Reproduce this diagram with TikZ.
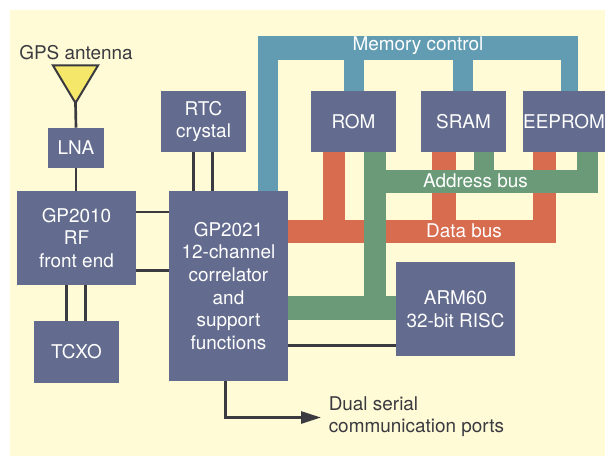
\documentclass[tikz,border=0pt]{standalone}
\usepackage{fontspec}
\setmainfont{TeX Gyre Heros}
\usetikzlibrary{arrows.meta}
\definecolor{paper}{HTML}{FFFBD6}
\definecolor{slate}{HTML}{636C8E}
\definecolor{memblue}{HTML}{629CB2}
\definecolor{dataorange}{HTML}{D86C4F}
\definecolor{addrgreen}{HTML}{6A9A78}
\definecolor{wirecol}{HTML}{3A3A40}
\definecolor{antfill}{HTML}{F5E76A}
\tikzset{
   block/.style 2 args = {fill = slate, text = white, inner sep = 0pt, align = center,
      minimum width = #1*0.75pt, minimum height = #2*0.75pt,
      font = \fontsize{14.2}{17}\selectfont},
   wire/.style = {draw = wirecol, line width = 2pt},
   membus/.style = {draw = memblue, line width = #1*0.75pt},
   databus/.style = {draw = dataorange, line width = #1*0.75pt},
   addrbus/.style = {draw = addrgreen, line width = #1*0.75pt},
   buslabel/.style = {text = white, inner sep = 0pt, font = \fontsize{14.2}{17}\selectfont},
   plainlabel/.style = {text = wirecol, inner sep = 0pt, align = left, font = \fontsize{14.2}{17}\selectfont}
}
\begin{document}
\begin{tikzpicture}[x = 0.75pt, y = -0.75pt]
\useasboundingbox (0,0) rectangle (605,456);
\fill[paper] (10,10) rectangle (605,456);

% blocks
\node[block = {56}{40}] (lna) at (76,148) {LNA};
\node[block = {119}{94}] (rf) at (76.5,238) {GP2010\\RF\\front end};
\node[block = {85}{62}] (tcxo) at (76.5,352) {TCXO};
\node[block = {85}{61}] (rtc) at (203.5,121.5) {RTC\\crystal};
\node[block = {119}{190}] (corr) at (228.5,286) {GP2021\\12-channel\\correlator\\and\\support\\functions};
\node[block = {85}{61}] (rom) at (353.5,121.5) {ROM};
\node[block = {85}{61}] (sram) at (463.5,121.5) {SRAM};
\node[block = {82}{61}] (eeprom) at (564,121.5) {EEPROM};
\node[block = {119}{94}] (arm) at (455.5,309) {ARM60\\32-bit RISC};

% antenna
\node[plainlabel] (antlabel) at (76,53) {GPS antenna};
\coordinate (anttip) at (75.5,103);
\draw[wirecol, fill = antfill, line width = 1.5pt] (53,65.5) -- (98,65.5) -- (anttip) -- cycle;

% thin wires
\draw[wire] (anttip) -- (lna.north);
\draw[wire] (lna.south) -- (rf.north -| lna.south);
\foreach \y in {212,270.5}
   \draw[wire] (rf.east |- 0,\y) -- (corr.west |- 0,\y);
\foreach \x in {66.5,85.5}
   \draw[wire] (rf.south -| \x,0) -- (tcxo.north -| \x,0);
\foreach \x in {193.5,212.5}
   \draw[wire] (rtc.south -| \x,0) -- (corr.north -| \x,0);
\draw[wire] (corr.east |- 0,345.5) -- (arm.west |- 0,345.5);

% memory control
\coordinate (memleft) at (258,48);
\coordinate (memright) at (578,48);
\draw[membus = 24] (memleft) -- (memright);
\draw[membus = 20] (corr.north -| 268,0) -- (268,48);
\draw[membus = 20] (rom.north -| 354,0) -- (354,48);
\draw[membus = 20] (sram.north -| 462.5,0) -- (462.5,48);
\draw[membus = 17] (eeprom.north -| 569.5,0) -- (569.5,48);

% data bus
\coordinate (dataend) at (556,231.5);
\draw[databus = 23] (corr.east |- dataend) -- (dataend);
\draw[databus = 22] (rom.south -| 334,0) -- (334,231.5);
\draw[databus = 24] (sram.south -| 444,0) -- (444,231.5);
\draw[databus = 23] (eeprom.south -| 544.5,0) -- (544.5,231.5);

% address bus
\coordinate (addrright) at (598,181.5);
\coordinate (addrjoin) at (375,308);
\draw[addrbus = 22] (rom.south -| addrjoin) -- (addrjoin);
\draw[addrbus = 24] (corr.east |- addrjoin) -- (arm.west |- addrjoin);
\draw[addrbus = 23] (addrjoin |- addrright) -- (addrright);
\draw[addrbus = 20] (sram.south -| 484,0) -- (484,181.5);
\draw[addrbus = 21] (eeprom.south -| 587.5,0) -- (587.5,181.5);

% bus labels
\node[buslabel] (memlabel) at (418,46) {Memory control};
\node[buslabel] (addrlabel) at (475.5,181) {Address bus};
\node[buslabel] (datalabel) at (464,231) {Data bus};

% serial ports
\node[plainlabel, anchor = west] (portlabel) at (328.5,416.5) {Dual serial\\communication ports};
\coordinate (portend) at (321,417.5);
\draw[wire, -{Triangle[length = 15pt, width = 9pt]}] (corr.south -| 225.5,0) |- (portend);
\end{tikzpicture}
\end{document}
